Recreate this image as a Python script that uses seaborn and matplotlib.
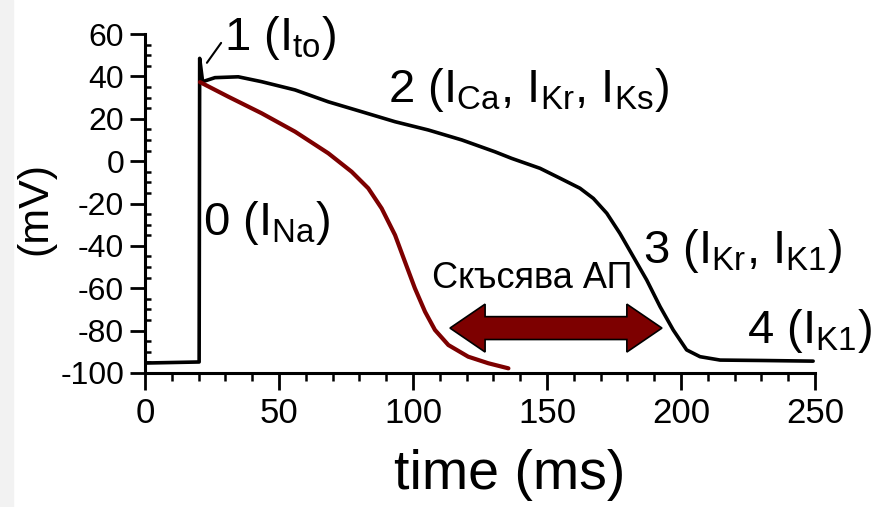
import numpy as np
import pandas as pd
import matplotlib
matplotlib.use("Agg")
import matplotlib.pyplot as plt
from matplotlib.patches import Polygon, Rectangle
from matplotlib.ticker import MultipleLocator
import seaborn as sns

# normal action potential (black)
ap_time = [0, 20.2, 20.4, 21.5, 26.1, 34.8, 43.5, 56.0, 68.4, 80.9, 93.3, 105.7, 118.2, 130.6,
           136.8, 147.4, 154.9, 162.3, 167.3, 172.3, 177.2, 182.2, 187.2, 192.2, 197.1, 202.1,
           207.1, 214.6, 230.6, 249.3]
ap_mv = [-95.3, -94.8, 48.5, 37.5, 39.4, 39.8, 37.5, 33.6, 28.0, 23.3, 18.6, 14.7, 10.0, 4.4,
         1.3, -3.4, -8.1, -12.8, -17.6, -24.6, -34.1, -45.1, -56.1, -68.7, -79.7, -89.1,
         -92.3, -93.9, -94.1, -94.4]

# shortened action potential (dark red)
short_time = [20.5, 31.1, 43.5, 56.0, 68.4, 77.1, 83.3, 88.3, 93.3, 97.0, 100.7, 104.5, 108.2,
              113.2, 120.6, 128.1, 135.6]
short_mv = [37.3, 30.4, 22.6, 13.9, 3.7, -5.0, -12.8, -22.3, -34.9, -47.5, -60.0, -71.1, -79.7,
            -86.8, -92.3, -95.4, -97.8]

x_ticks = [0, 50, 100, 150, 200, 250]
y_ticks = [60, 40, 20, 0, -20, -40, -60, -80, -100]

labels = ["1 (I$_{to}$)", "2 (I$_{Ca}$, I$_{Kr}$, I$_{Ks}$)", "0 (I$_{Na}$)",
          "3 (I$_{Kr}$, I$_{K1}$)", "4 (I$_{K1}$)"]
label_x = [29.5, 90.7, 21.8, 185.8, 224.6]
label_y = [52.4, 27.9, -34.9, -48.1, -85.8]

note_text = "Скъсява АП"
arrow_from, arrow_to, arrow_mv = 113.8, 192.9, -78.8

sns.set_style("ticks")
plt.rcParams["font.family"] = ["Liberation Sans", "DejaVu Sans"]
plt.rcParams["mathtext.default"] = "regular"
plt.rcParams["axes.unicode_minus"] = False
plt.rcParams["text.color"] = "black"
plt.rcParams["axes.labelcolor"] = "black"
plt.rcParams["xtick.color"] = "black"
plt.rcParams["ytick.color"] = "black"
plt.rcParams["axes.edgecolor"] = "black"

dark_red = "#7d0000"

fig = plt.figure(figsize=(8.87, 5.07), dpi=100)
fig.patches.append(Rectangle((0, 0), 13 / 887, 1, transform=fig.transFigure,
                             color="#f2f2f2", zorder=0))
ax = fig.add_axes([145 / 887, 134 / 507, 670 / 887, 339 / 507])
ax.set_facecolor("none")

df_ap = pd.DataFrame({"t": ap_time, "v": ap_mv})
df_short = pd.DataFrame({"t": short_time, "v": short_mv})
sns.lineplot(data=df_ap, x="t", y="v", color="black", linewidth=2.6, sort=False,
             estimator=None, ax=ax)
sns.lineplot(data=df_short, x="t", y="v", color=dark_red, linewidth=3.0, sort=False,
             estimator=None, ax=ax)

ax.set_xlim(0, 250)
ax.set_ylim(-100, 60)
ax.set_xticks(x_ticks)
ax.set_yticks(y_ticks)
ax.xaxis.set_minor_locator(MultipleLocator(10))
ax.yaxis.set_minor_locator(MultipleLocator(5))
sns.despine(ax=ax)
for s in ["left", "bottom"]:
    ax.spines[s].set_linewidth(2.2)
ax.tick_params(axis="x", which="major", direction="out", length=12, width=2, labelsize=25, pad=5)
ax.tick_params(axis="x", which="minor", direction="out", length=6, width=1.8)
ax.tick_params(axis="y", which="major", direction="out", length=11, width=2, labelsize=23, pad=4)
ax.tick_params(axis="y", which="minor", direction="in", length=4, width=1.8)

ax.set_xlabel("time (ms)", fontsize=40)
ax.xaxis.set_label_coords(0.545, -0.225)
ax.set_ylabel("(mV)", fontsize=31)
ax.yaxis.set_label_coords(-0.134, 0.485)

for txt, tx, ty in zip(labels, label_x, label_y):
    ax.text(tx, ty, txt, fontsize=34, va="baseline", ha="left", clip_on=False)

# leader line for phase 1
ax.plot([23.1, 28.4], [46.4, 55.8], color="black", linewidth=1.5, clip_on=False)

ax.text(107.1, -59.9, note_text, fontsize=26, va="baseline", ha="left")

# double-headed arrow
hl, hw, sw = 13.1, 11.3, 5.4
x0, x1, yc = arrow_from, arrow_to, arrow_mv
verts = [(x0, yc), (x0 + hl, yc + hw), (x0 + hl, yc + sw), (x1 - hl, yc + sw),
         (x1 - hl, yc + hw), (x1, yc), (x1 - hl, yc - hw), (x1 - hl, yc - sw),
         (x0 + hl, yc - sw), (x0 + hl, yc - hw)]
ax.add_patch(Polygon(verts, closed=True, facecolor=dark_red, edgecolor="black",
                     linewidth=1.2, zorder=4))

fig.savefig("out.png", dpi=100)
